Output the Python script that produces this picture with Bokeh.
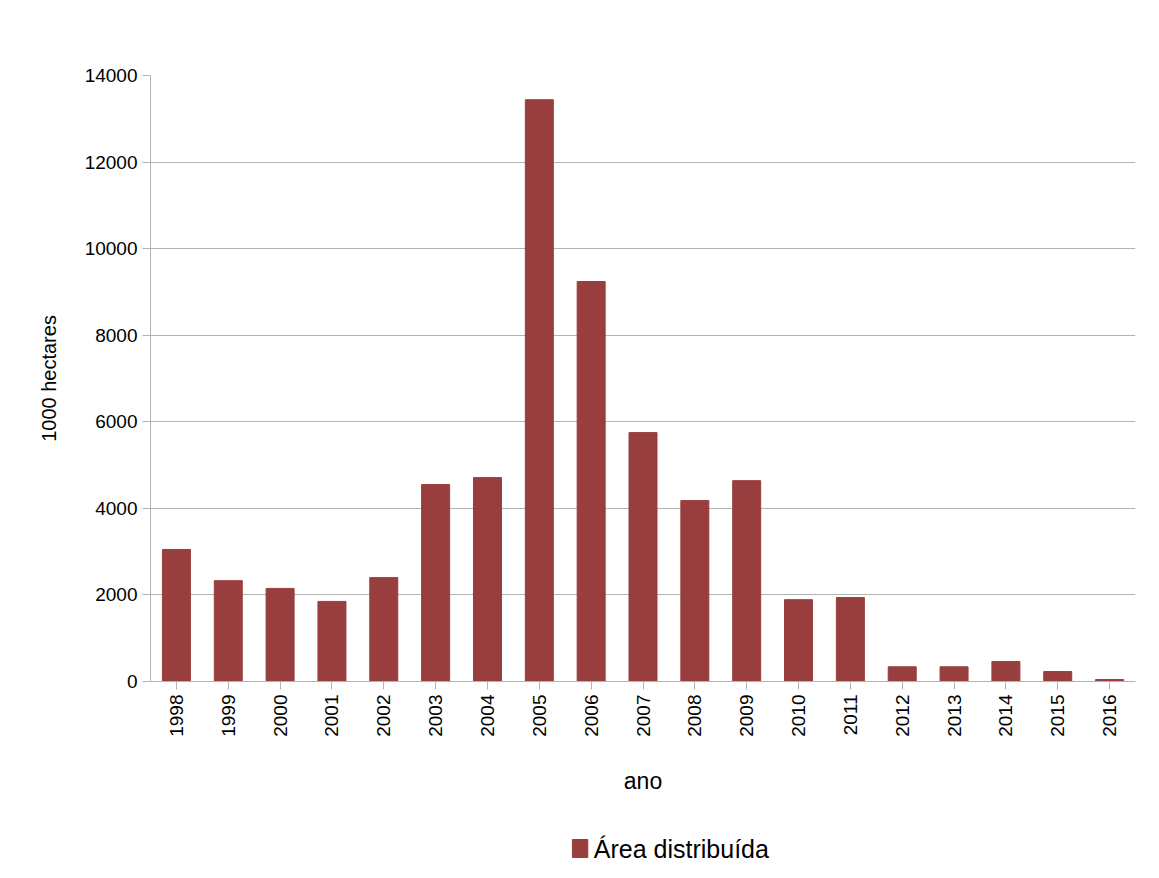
from bokeh.plotting import figure
from bokeh.models import ColumnDataSource, Range1d
from bokeh.layouts import column
from bokeh.core.properties import value
from bokeh.embed import file_html
from bokeh.resources import INLINE

years = [str(y) for y in range(1998, 2017)]
area = [3050, 2330, 2150, 1850, 2400, 4550, 4710, 13440, 9240, 5750,
        4180, 4640, 1890, 1940, 340, 340, 460, 230, 45]
legend_label = 'Área distribuída'
bar_color = '#993E3E'

source = ColumnDataSource(data=dict(ano=years, area=area))

p = figure(x_range=years, y_range=(0, 14000), frame_width=985, frame_height=606,
           min_border_left=150, min_border_top=75, min_border_right=16, min_border_bottom=150,
           output_backend="svg", toolbar_location=None)

p.vbar(x='ano', top='area', width=0.54, source=source, color=bar_color)

font = "Liberation Sans"
p.xaxis.axis_label = 'ano'
p.yaxis.axis_label = '1000 hectares'
for ax in (p.xaxis, p.yaxis):
    ax.axis_label_text_font = font
    ax.axis_label_text_font_style = 'normal'
    ax.axis_label_text_color = 'black'
    ax.major_label_text_font = font
    ax.major_label_text_font_size = '19px'
    ax.major_label_text_color = 'black'
    ax.axis_line_color = '#b3b3b3'
    ax.major_tick_line_color = '#b3b3b3'
    ax.minor_tick_line_color = None
    ax.major_tick_in = 0
    ax.major_tick_out = 8
p.xaxis.axis_label_text_font_size = '23px'
p.yaxis.axis_label_text_font_size = '20px'
p.xaxis.major_label_orientation = 1.5708
p.xaxis.axis_label_standoff = 28
p.yaxis.axis_label_standoff = 22
p.yaxis.ticker = list(range(0, 14001, 2000))

p.xgrid.grid_line_color = None
p.ygrid.grid_line_color = '#b3b3b3'
p.outline_line_color = None

# legend as a separate strip under the chart
leg = figure(width=1151, height=34, x_range=Range1d(0, 1151), y_range=Range1d(0, 34),
             min_border=0, output_backend="svg", toolbar_location=None)
leg.axis.visible = False
leg.grid.grid_line_color = None
leg.outline_line_color = None
leg.rect(x=[502], y=[17], width=18, height=18, color=bar_color)
leg.text(x=[518], y=[17], text=[legend_label], text_font=value(font), text_font_size='25px',
         text_baseline='middle', text_color='black')

open("out.html", "w").write(file_html(column(p, leg, spacing=0), INLINE))
